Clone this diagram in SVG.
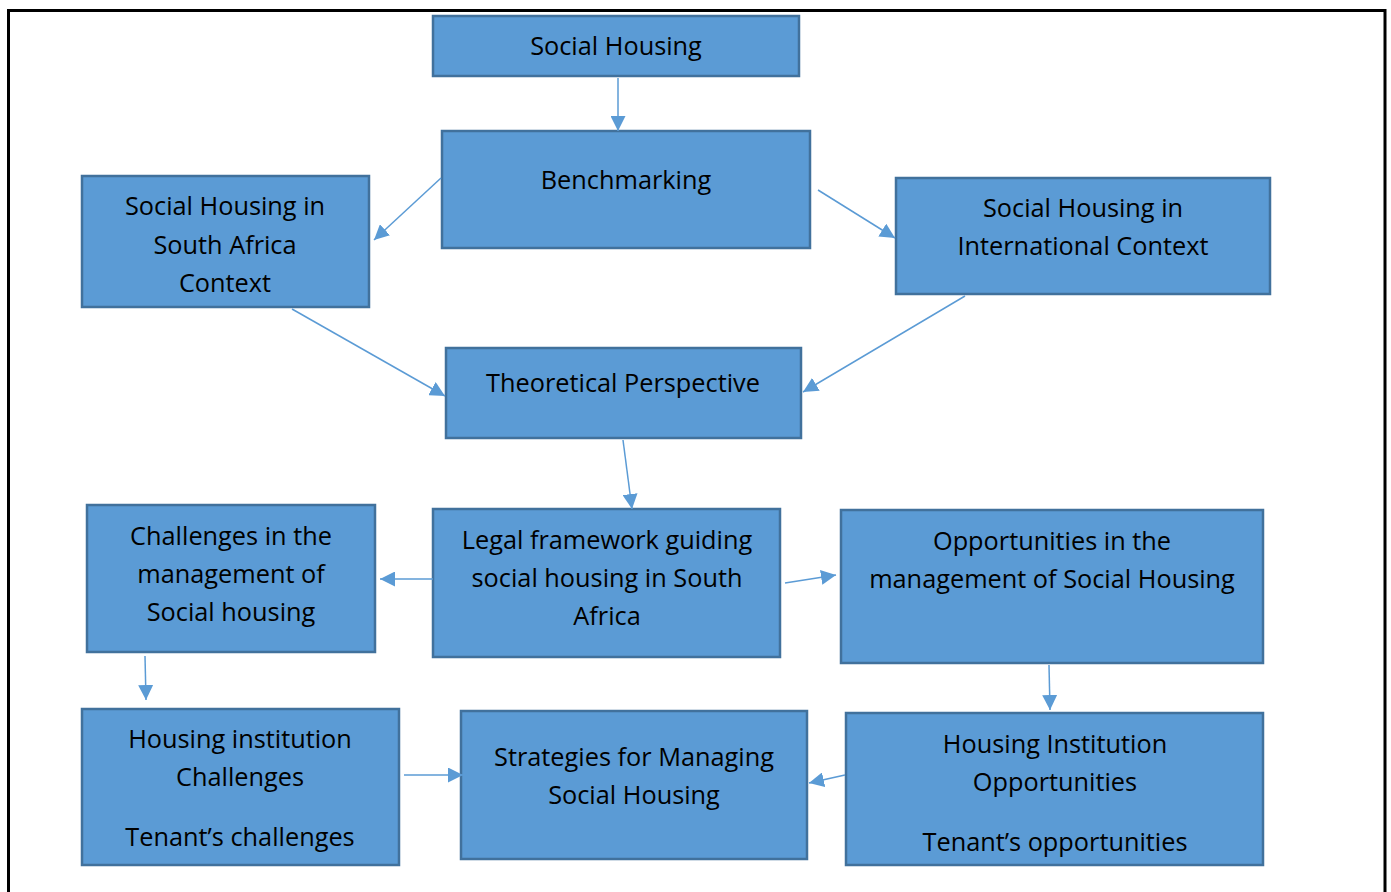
<svg xmlns="http://www.w3.org/2000/svg" width="1391" height="892" viewBox="0 0 1391 892">
  <style>
    .box { fill: #5B9BD5; stroke: #41719C; stroke-width: 2.5; }
    .lbl { font-family: "Open Sans", "Noto Sans", sans-serif; font-size: 25.3px; fill: #000; text-anchor: middle; }
    .conn { stroke: #5B9BD5; stroke-width: 1.5; fill: none; marker-end: url(#arrow); }
  </style>
  <defs>
    <marker id="arrow" viewBox="0 0 10 10" refX="10" refY="5" markerWidth="15" markerHeight="15" markerUnits="userSpaceOnUse" orient="auto">
      <path d="M0,0 L10,5 L0,10 z" fill="#5B9BD5"/>
    </marker>
  </defs>
  <rect width="1391" height="892" fill="#fff"/>
  <!-- page frame -->
  <rect x="8.5" y="10.5" width="1376.5" height="900" fill="none" stroke="#000" stroke-width="3"/>

  <g id="social-housing">
    <rect class="box" x="433" y="16" width="366" height="60"/>
    <text class="lbl" x="616" y="55">Social Housing</text>
  </g>
  <g id="benchmarking">
    <rect class="box" x="442" y="131" width="368" height="117"/>
    <text class="lbl" x="626" y="189">Benchmarking</text>
  </g>
  <g id="sa-context">
    <rect class="box" x="82" y="176" width="287" height="131"/>
    <text class="lbl" x="225" y="215">Social Housing in</text>
    <text class="lbl" x="225" y="254">South Africa</text>
    <text class="lbl" x="225" y="292">Context</text>
  </g>
  <g id="intl-context">
    <rect class="box" x="896" y="178" width="374" height="116"/>
    <text class="lbl" x="1083" y="217">Social Housing in</text>
    <text class="lbl" x="1083" y="255">International Context</text>
  </g>
  <g id="theoretical">
    <rect class="box" x="446" y="348" width="355" height="90"/>
    <text class="lbl" x="623" y="392">Theoretical Perspective</text>
  </g>
  <g id="legal">
    <rect class="box" x="433" y="509" width="347" height="148"/>
    <text class="lbl" x="607" y="549">Legal framework guiding</text>
    <text class="lbl" x="607" y="587">social housing in South</text>
    <text class="lbl" x="607" y="625">Africa</text>
  </g>
  <g id="challenges">
    <rect class="box" x="87" y="505" width="288" height="147"/>
    <text class="lbl" x="231" y="545">Challenges in the</text>
    <text class="lbl" x="231" y="583">management of</text>
    <text class="lbl" x="231" y="621">Social housing</text>
  </g>
  <g id="opportunities">
    <rect class="box" x="841" y="510" width="422" height="153"/>
    <text class="lbl" x="1052" y="550">Opportunities in the</text>
    <text class="lbl" x="1052" y="588">management of Social Housing</text>
  </g>
  <g id="institution-challenges">
    <rect class="box" x="82" y="709" width="317" height="156"/>
    <text class="lbl" x="240" y="748">Housing institution</text>
    <text class="lbl" x="240" y="786">Challenges</text>
    <text class="lbl" x="240" y="846">Tenant’s challenges</text>
  </g>
  <g id="strategies">
    <rect class="box" x="461" y="711" width="346" height="148"/>
    <text class="lbl" x="634" y="766">Strategies for Managing</text>
    <text class="lbl" x="634" y="804">Social Housing</text>
  </g>
  <g id="institution-opportunities">
    <rect class="box" x="846" y="713" width="417" height="152"/>
    <text class="lbl" x="1055" y="753">Housing Institution</text>
    <text class="lbl" x="1055" y="791">Opportunities</text>
    <text class="lbl" x="1055" y="851">Tenant’s opportunities</text>
  </g>

  <g id="connectors">
    <line class="conn" x1="618" y1="78" x2="618" y2="131"/>
    <line class="conn" x1="441" y1="178" x2="374" y2="240"/>
    <line class="conn" x1="818" y1="190" x2="895" y2="238"/>
    <line class="conn" x1="292" y1="309" x2="445" y2="396"/>
    <line class="conn" x1="965" y1="296" x2="803" y2="392"/>
    <line class="conn" x1="623" y1="440" x2="632" y2="509"/>
    <line class="conn" x1="433" y1="579" x2="380" y2="579"/>
    <line class="conn" x1="785" y1="583" x2="836" y2="575"/>
    <line class="conn" x1="145" y1="656" x2="146" y2="700"/>
    <line class="conn" x1="1049" y1="665" x2="1050" y2="710"/>
    <line class="conn" x1="404" y1="775" x2="463" y2="775"/>
    <line class="conn" x1="845" y1="775" x2="809" y2="783"/>
  </g>
</svg>
